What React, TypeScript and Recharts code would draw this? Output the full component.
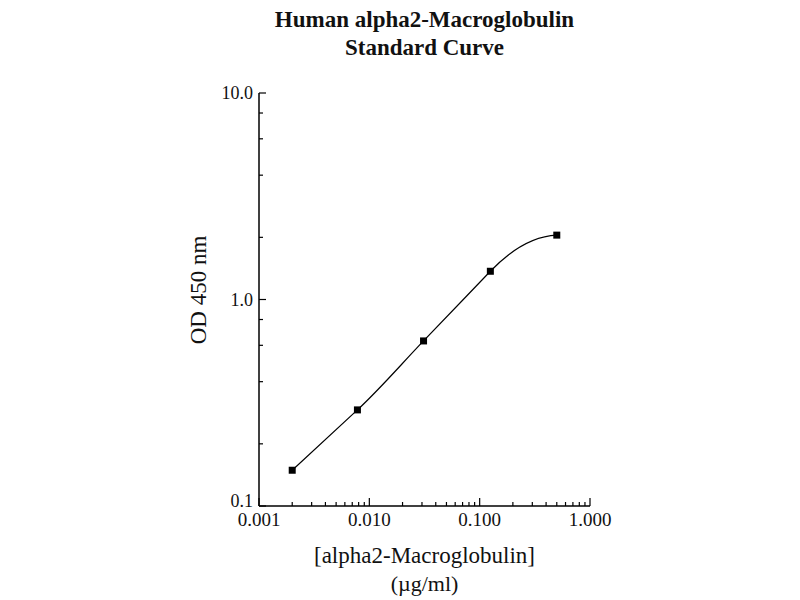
import React from "react";
import {
  ComposedChart,
  Line,
  XAxis,
  YAxis,
} from "recharts";

const concentrations = [0.002, 0.0078, 0.031, 0.125, 0.5];
const odValues = [0.149, 0.292, 0.63, 1.37, 2.05];

const xTicks = [
  0.001, 0.002, 0.003, 0.004, 0.005, 0.006, 0.007, 0.008, 0.009,
  0.01, 0.02, 0.03, 0.04, 0.05, 0.06, 0.07, 0.08, 0.09,
  0.1, 0.2, 0.3, 0.4, 0.5, 0.6, 0.7, 0.8, 0.9,
  1,
];
const yTicks = [0.1, 0.2, 0.4, 0.6, 0.8, 1, 2, 4, 6, 8, 10];

const titleLines = ["Human alpha2-Macroglobulin", "Standard Curve"];
const xLabelLines = ["[alpha2-Macroglobulin]", "(µg/ml)"];
const yLabel = "OD 450 nm";

const data = concentrations.map((c, i) => ({ x: c, y: odValues[i] }));

const FONT = "'Liberation Serif', 'Times New Roman', serif";

const isMajor = (v: number) => {
  const l = Math.log10(v);
  return Math.abs(l - Math.round(l)) < 1e-6;
};

// Hermite curve interpolator: follows the incoming slope through the points
// and eases into a flat end (like a fitted standard curve).
const fitCurve = (context: any) => {
  let xs: number[] = [];
  let ys: number[] = [];
  return {
    areaStart() {},
    areaEnd() {},
    lineStart() {
      xs = [];
      ys = [];
    },
    point(x: number, y: number) {
      xs.push(+x);
      ys.push(+y);
    },
    lineEnd() {
      const n = xs.length;
      if (n === 0) return;
      context.moveTo(xs[0], ys[0]);
      if (n === 1) return;
      const d: number[] = [];
      for (let i = 0; i < n - 1; i++) d.push((ys[i + 1] - ys[i]) / (xs[i + 1] - xs[i]));
      const m: number[] = new Array(n);
      m[0] = d[0];
      for (let i = 1; i < n - 1; i++) m[i] = d[i - 1];
      m[n - 1] = 2 * d[n - 2] - m[n - 2];
      for (let i = 0; i < n - 1; i++) {
        const h = xs[i + 1] - xs[i];
        context.bezierCurveTo(
          xs[i] + h / 3,
          ys[i] + (m[i] * h) / 3,
          xs[i + 1] - h / 3,
          ys[i + 1] - (m[i + 1] * h) / 3,
          xs[i + 1],
          ys[i + 1]
        );
      }
    },
  };
};

const XTick = (props: any) => {
  const { x, y, payload } = props;
  const v = payload.value as number;
  const major = isMajor(v);
  return (
    <g>
      <line x1={x} x2={x} y1={y} y2={y - (major ? 8 : 4)} stroke="#000" strokeWidth={1.2} />
      {major && (
        <text
          x={x}
          y={y + 13}
          textAnchor="middle"
          dominantBaseline="central"
          fontFamily={FONT}
          fontSize={19}
          fill="#111"
        >
          {v.toFixed(3)}
        </text>
      )}
    </g>
  );
};

const YTick = (props: any) => {
  const { x, y, payload } = props;
  const v = payload.value as number;
  const major = isMajor(v);
  return (
    <g>
      <line x1={x} x2={x + (major ? 7 : 4)} y1={y} y2={y} stroke="#000" strokeWidth={1.2} />
      {major && (
        <text
          x={x - 6}
          y={v < 0.5 ? y - 5 : y}
          textAnchor="end"
          dominantBaseline="central"
          fontFamily={FONT}
          fontSize={18}
          fill="#111"
        >
          {v.toFixed(1)}
        </text>
      )}
    </g>
  );
};

const SquareDot = (props: any) => {
  const { cx, cy } = props;
  if (cx == null || cy == null) return null;
  return <rect x={cx - 3.5} y={cy - 3.5} width={7} height={7} fill="#000" />;
};

const XLabel = (props: any) => {
  const vb = props.viewBox || {};
  const cx = (vb.x ?? 259) + (vb.width ?? 331) / 2;
  const top = vb.y ?? 506;
  return (
    <text fontFamily={FONT} fill="#111" textAnchor="middle">
      <tspan x={cx} y={top + 57} fontSize={23}>{xLabelLines[0]}</tspan>
      <tspan x={cx} y={top + 85} fontSize={22}>{xLabelLines[1]}</tspan>
    </text>
  );
};

const YLabel = () => {
  const cx = 198;
  const cy = 290;
  return (
    <text
      x={cx}
      y={cy}
      transform={`rotate(-90, ${cx}, ${cy})`}
      textAnchor="middle"
      dominantBaseline="central"
      fontFamily={FONT}
      fontSize={23}
      fill="#111"
    >
      {yLabel}
    </text>
  );
};

export default function App() {
  return (
    <div style={{ position: "absolute", left: 0, top: 0, width: 800, height: 600, background: "#fff" }}>
      <div
        style={{
          position: "absolute",
          left: 200,
          width: 449,
          top: 6,
          textAlign: "center",
          fontFamily: FONT,
          fontSize: 23,
          fontWeight: "bold",
          lineHeight: "28px",
          color: "#111",
          whiteSpace: "nowrap",
        }}
      >
        {titleLines.map((t) => (
          <div key={t}>{t}</div>
        ))}
      </div>
      <ComposedChart
        width={800}
        height={600}
        data={data}
        margin={{ top: 93, right: 210, bottom: 0, left: 0 }}
      >
        <XAxis
          dataKey="x"
          type="number"
          scale="log"
          domain={[0.001, 1]}
          ticks={xTicks}
          interval={0}
          allowDataOverflow
          height={94}
          tickSize={0}
          tickMargin={0}
          tickLine={false}
          axisLine={{ stroke: "#000", strokeWidth: 1.5 }}
          tick={<XTick />}
          label={<XLabel />}
        />
        <YAxis
          dataKey="y"
          type="number"
          scale="log"
          domain={[0.1, 10]}
          ticks={yTicks}
          interval={0}
          allowDataOverflow
          width={259}
          tickSize={0}
          tickMargin={0}
          tickLine={false}
          axisLine={{ stroke: "#000", strokeWidth: 1.5 }}
          tick={<YTick />}
          label={<YLabel />}
        />
        <Line
          type={fitCurve as any}
          dataKey="y"
          stroke="#000"
          strokeWidth={1.2}
          dot={<SquareDot />}
          activeDot={false}
          isAnimationActive={false}
        />
      </ComposedChart>
    </div>
  );
}
